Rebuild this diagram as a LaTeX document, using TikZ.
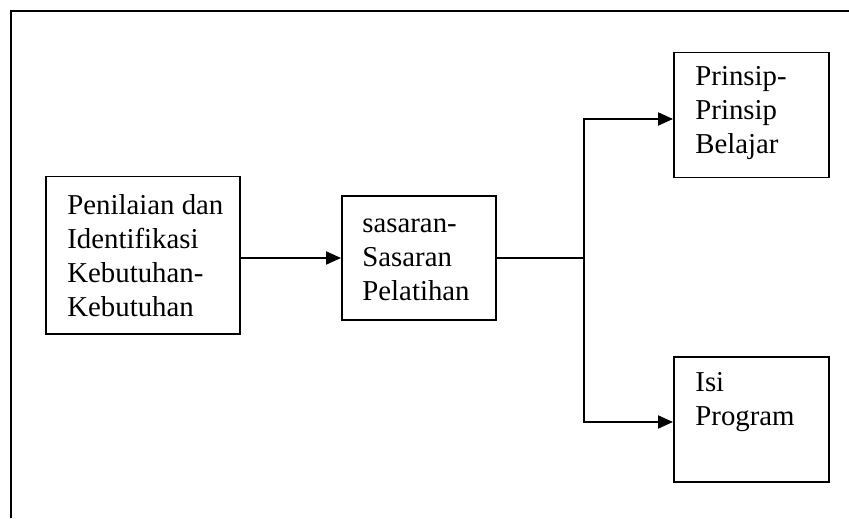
\documentclass[tikz,border=0pt]{standalone}
\usepackage{fontspec}
\setmainfont{Liberation Serif}
\usetikzlibrary{arrows.meta}
\tikzset{
  box/.style={draw, line width=0.75pt, anchor=north west, inner sep=0pt},
  label/.style={anchor=base west, inner sep=0pt, align=left,
    font=\fontsize{14.4}{17}\selectfont},
  link/.style={line width=1pt},
  arr/.style={link, -{Triangle[length=7.5pt, width=6.5pt]}},
}
\begin{document}
\begin{tikzpicture}[x=0.5pt, y=-0.5pt]
  \useasboundingbox (0,0) rectangle (849,518);
  % open frame: top and left edges only
  \draw[line width=1pt] (849,11) -- (11,11) -- (11,518);

  % boxes
  \node[box, minimum width=97pt, minimum height=78.5pt] (b1) at (45,176) {};
  \node[box, minimum width=77pt, minimum height=62pt] (b2) at (341,195) {};
  \node[box, minimum width=77.5pt, minimum height=62.5pt] (b3) at (673,52) {};
  \node[box, minimum width=77.5pt, minimum height=62.5pt] (b4) at (673,356) {};

  % texts (anchored at the baseline of their last line)
  \node[label] (t1) at (67,316) {Penilaian dan\\Identifikasi\\Kebutuhan-\\Kebutuhan};
  \node[label] (t2) at (362,300) {sasaran-\\Sasaran\\Pelatihan};
  \node[label] (t3) at (695,154) {Prinsip-\\Prinsip\\Belajar};
  \node[label] (t4) at (695,425) {Isi\\Program};

  % connectors
  \coordinate (j) at (584,258);
  \coordinate (j1) at (584,119);
  \coordinate (j2) at (584,422);
  \draw[arr] (b1.east |- j) -- (b2.west |- j);
  \draw[link] (b2.east |- j) -- (j);
  \draw[arr] (j) -- (j1) -- (b3.west |- j1);
  \draw[arr] (j) -- (j2) -- (b4.west |- j2);
\end{tikzpicture}
\end{document}
